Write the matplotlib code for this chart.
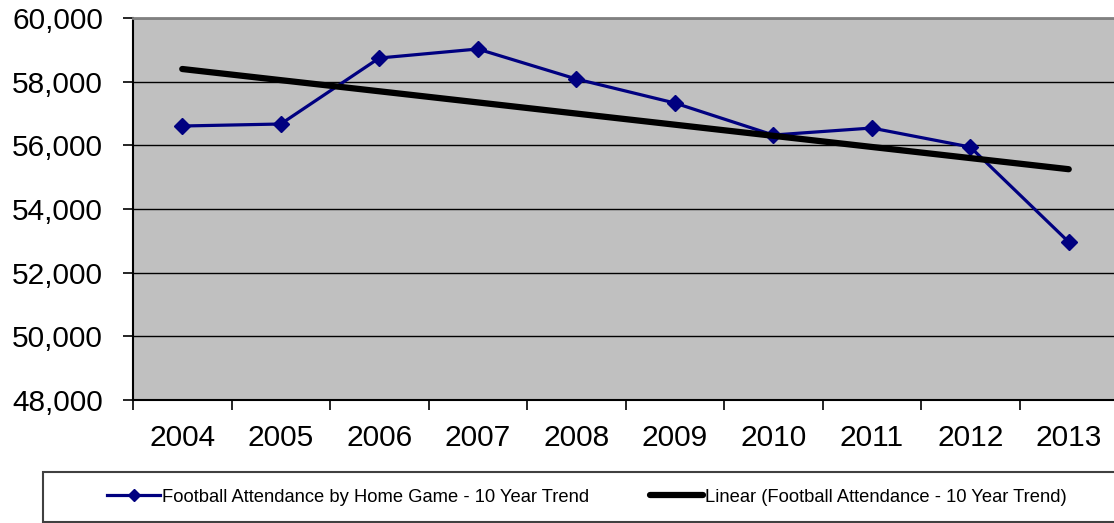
import numpy as np
import matplotlib
matplotlib.use("Agg")
import matplotlib.pyplot as plt
from matplotlib.patches import Rectangle
from matplotlib.lines import Line2D
from matplotlib.ticker import FuncFormatter

years = ["2004", "2005", "2006", "2007", "2008", "2009", "2010", "2011", "2012", "2013"]
attendance = [56607, 56670, 58743, 59026, 58084, 57330, 56324, 56544, 55947, 52963]
series_label = "Football Attendance by Home Game - 10 Year Trend"
trend_label = "Linear (Football Attendance - 10 Year Trend)"

plt.rcParams['font.family'] = ['Liberation Sans', 'DejaVu Sans']

W, H = 1114, 523
fig = plt.figure(figsize=(W / 100, H / 100), dpi=100)
ax = fig.add_axes([133 / W, 1 - 400 / H, 985 / W, 382 / H])
ax.set_facecolor('#C0C0C0')

x = np.arange(len(years))
coef = np.polyfit(x, attendance, 1)
trend = np.polyval(coef, x)

ax.set_xlim(-0.5, len(years) - 0.5)
ax.set_ylim(48000, 60000)
ax.set_yticks(np.arange(48000, 60001, 2000))
ax.yaxis.set_major_formatter(FuncFormatter(lambda v, p: f"{int(v):,}"))
ax.grid(axis='y', color='black', linewidth=1.0)
ax.set_axisbelow(True)

ax.plot(x, attendance, color='#000080', linewidth=2.3, marker='D', markersize=8.5,
        markerfacecolor='#000080', markeredgecolor='#000080', zorder=3)
ax.plot(x, trend, color='black', linewidth=4.5, solid_capstyle='round', zorder=4)

ax.set_xticks(x)
ax.set_xticklabels(years)
ax.set_xticks(np.arange(-0.5, len(years) + 0.5, 1), minor=True)
ax.tick_params(axis='x', which='major', length=0, pad=17, labelsize=21.5)
ax.tick_params(axis='x', which='minor', length=7.5, width=1.2, direction='out', color='black')
ax.tick_params(axis='y', which='major', length=7.5, width=1.2, direction='out', pad=14, labelsize=21.5)

ax.spines['left'].set_color('black')
ax.spines['left'].set_linewidth(1.5)
ax.spines['bottom'].set_color('black')
ax.spines['bottom'].set_linewidth(1.5)
ax.spines['top'].set_color('#808080')
ax.spines['top'].set_linewidth(2)
ax.spines['right'].set_visible(False)

# legend box
rect = Rectangle((43 / W, 1 - 522 / H), 1080 / W, 50 / H, transform=fig.transFigure,
                 facecolor='white', edgecolor='#404040', linewidth=1.5)
fig.patches.append(rect)

h1 = Line2D([], [], color='#000080', linewidth=2.3, marker='D', markersize=6.5)
h2 = Line2D([], [], color='black', linewidth=4.5, solid_capstyle='round')
fig.legend([h1, h2], [series_label, trend_label], loc='center left',
           bbox_to_anchor=(107 / W, 1 - 497 / H), ncol=2, frameon=False,
           borderaxespad=0, borderpad=0,
           fontsize=13.2, handlelength=2.9, handletextpad=0.12, columnspacing=3.3)

fig.savefig('out.png', dpi=100)
